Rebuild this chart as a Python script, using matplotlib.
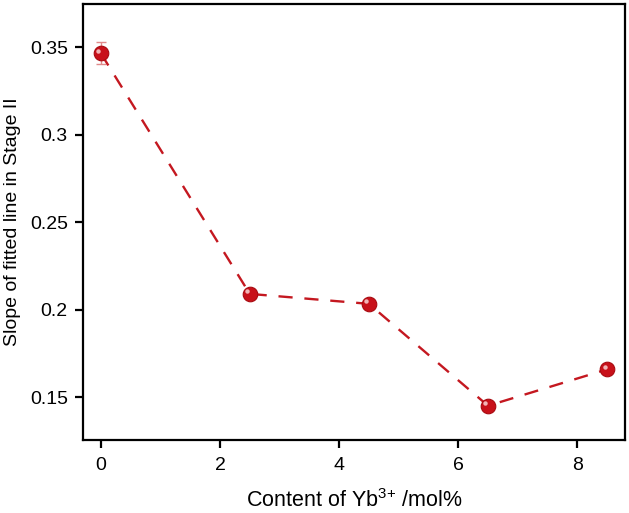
import matplotlib.pyplot as plt
from matplotlib.ticker import FuncFormatter
from matplotlib.transforms import offset_copy

plt.rcParams['font.family'] = ['Liberation Sans', 'DejaVu Sans']
plt.rcParams['mathtext.fontset'] = 'custom'
plt.rcParams['mathtext.rm'] = 'Liberation Sans'

# data
yb_content = [0, 2.5, 4.5, 6.5, 8.5]
slope = [0.3466, 0.209, 0.2033, 0.145, 0.1658]
slope_err = [0.0063, 0, 0, 0, 0]

fig = plt.figure(figsize=(6.29, 5.13), dpi=100)
ax = fig.add_axes([0.132, 0.1423, 0.8616, 0.8497])

# error bar on first point only
ax.errorbar(yb_content[:1], slope[:1], yerr=slope_err[:1], fmt='none',
            ecolor='#E08A8A', elinewidth=1.0, capsize=3.5, capthick=1.0, zorder=2)

line, = ax.plot(yb_content, slope, color='#C41820', lw=1.7, ls='--', zorder=3)
line.set_dashes([6, 5])

# sphere-like markers: base + darker rim + highlight
ax.plot(yb_content, slope, ls='none', marker='o', ms=10.5,
        mfc='#C8111A', mec='#A80A10', mew=0.8, zorder=4)
hl = offset_copy(ax.transData, fig=fig, x=-1.8, y=1.8, units='points')
ax.plot(yb_content, slope, ls='none', marker='o', ms=3.2,
        mfc='#F6C8C8', mec='none', alpha=0.9, transform=hl, zorder=5)

ax.set_xlim(-0.3, 8.8)
ax.set_ylim(0.1254, 0.3748)
ax.set_xticks([0, 2, 4, 6, 8])
ax.set_yticks([0.15, 0.2, 0.25, 0.3, 0.35])
ax.yaxis.set_major_formatter(FuncFormatter(lambda v, p: '%g' % round(v, 3)))

for s in ax.spines.values():
    s.set_linewidth(1.6)
ax.tick_params(direction='out', length=5.5, width=1.6, labelsize=14)
ax.tick_params(axis='x', pad=6.5)
ax.tick_params(axis='y', pad=5.5)

ax.set_xlabel(r'Content of Yb$^{\mathregular{3{+}}}$ /mol%', fontsize=15.5, labelpad=11)
ax.set_ylabel('Slope of fitted line in Stage II', fontsize=14, labelpad=6)

fig.savefig('out.png', dpi=100)
